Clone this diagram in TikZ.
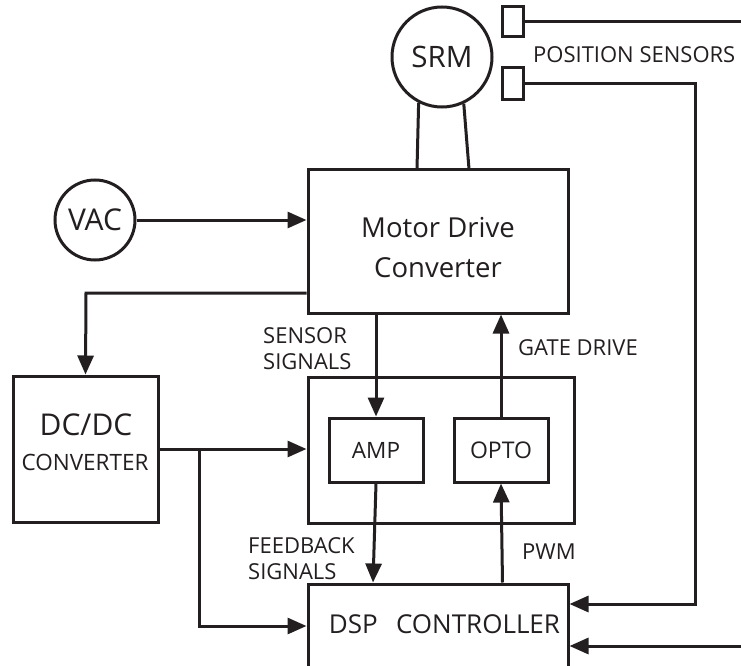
\documentclass[tikz,border=0pt]{standalone}
\usepackage{fontspec}
\setmainfont{Open Sans}
\usetikzlibrary{arrows.meta}
\definecolor{ink}{HTML}{231F20}
\begin{document}
\begin{tikzpicture}[x=1pt,y=-1pt,
  lw/.style={line width=3pt, draw=ink},
  box/.style={draw, lw, rectangle, inner sep=0pt},
  circ/.style={draw, lw, circle, inner sep=0pt, text=ink},
  arr/.style={lw, -{Triangle[length=19pt,width=16pt]}},
  wire/.style={lw},
  lab/.style={inner sep=0pt, font=\fontsize{22}{26}\selectfont, align=left, text=ink},
  txt/.style={inner sep=0pt, text=ink},
]
\useasboundingbox (0,0) rectangle (741,666);
\fill[white] (0,0) rectangle (741,666);
\clip (0,0) rectangle (741,666);

% nodes
\node[circ, minimum size=100pt, font=\fontsize{29.5}{29.5}\selectfont] (srm) at (442,57) {SRM};
\node[box, minimum width=21pt, minimum height=30pt] (sens1) at (512.5,22) {};
\node[box, minimum width=21pt, minimum height=32pt] (sens2) at (512.5,84) {};
\node[lab, anchor=west] (possens) at (533,55) {POSITION SENSORS};

\node[box, minimum width=260pt, minimum height=144pt] (motor) at (438,241) {};
\node[txt, font=\fontsize{27.5}{40}\selectfont, align=center] (motortext) at (438,248) {Motor Drive\\Converter};

\node[circ, minimum size=80pt, font=\fontsize{30}{30}\selectfont] (vac) at (95,220) {VAC};

\node[box, minimum width=145pt, minimum height=146pt] (dcdc) at (85.5,449) {};
\node[txt, font=\fontsize{30}{30}\selectfont] (dcdct) at (86,425) {DC/DC};
\node[txt, font=\fontsize{22.5}{22.5}\selectfont] (convt) at (85,462) {CONVERTER};

\node[box, minimum width=266pt, minimum height=146pt] (mid) at (441,450) {};
\node[box, minimum width=94pt, minimum height=64pt, font=\fontsize{22.5}{22.5}\selectfont, text=ink] (amp) at (376,450) {AMP};
\node[box, minimum width=94pt, minimum height=64pt, font=\fontsize{23}{23}\selectfont, text=ink] (opto) at (501,450) {OPTO};

\node[box, minimum width=260pt, minimum height=120pt] (dsp) at (438,644) {};
\node[txt, font=\fontsize{26}{26}\selectfont] (dspt) at (444.5,624) {DSP\hspace{0.7em}CONTROLLER};

\node[lab, anchor=north west] (senslab) at (263,327) {SENSOR\\SIGNALS};
\node[lab, anchor=west] (gatelab) at (518,348) {GATE DRIVE};
\node[lab, anchor=north west] (fblab) at (248,537) {FEEDBACK\\SIGNALS};
\node[lab, anchor=west] (pwmlab) at (522,552) {PWM};

% coordinates
\coordinate (l1) at (417,169);
\coordinate (l2) at (469,169);
\coordinate (p1) at (745,23);
\coordinate (p2) at (695,604);
\coordinate (p3) at (745,646);
\coordinate (k1) at (86,293);
\coordinate (b1) at (199,449);
\coordinate (b2) at (199,626);

% connectors
\draw[wire] (srm.-117) -- (l1);
\draw[wire] (srm.-65) -- (l2);
\draw[wire] (sens1.east) -- (sens1.east -| p1);
\draw[arr] (sens2.east) -| (p2) -- (p2 -| dsp.east);
\draw[arr] (p3) -- (p3 -| dsp.east);
\draw[arr] (vac.east) -- (vac.east -| motor.west);
\draw[arr] (k1 -| motor.west) -- (k1) -- (dcdc.north);
\draw[arr] (dcdc.east) -- (dcdc.east -| mid.west);
\draw[arr] (b1) -- (b2) -- (b2 -| dsp.west);
\draw[arr] (amp.north |- motor.south) -- (amp.north);
\draw[arr] (opto.north) -- (opto.north |- motor.south);
\draw[arr] (amp.south) -- ([xshift=-3pt]amp.south |- dsp.north);
\draw[arr] ([xshift=1.5pt]opto.south |- dsp.north) -- (opto.south);
\end{tikzpicture}
\end{document}
